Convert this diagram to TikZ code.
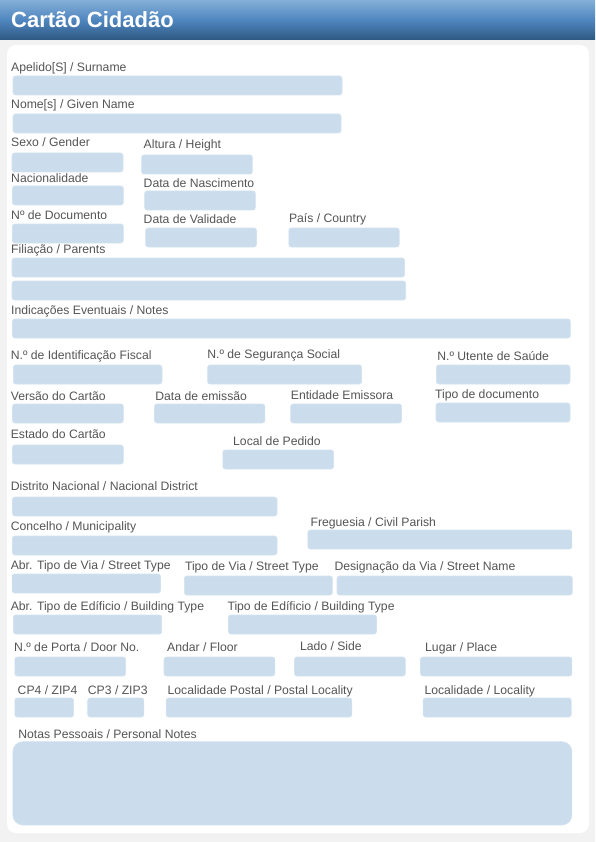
\documentclass[tikz,border=0pt]{standalone}
\usepackage{fontspec}
\setmainfont{Liberation Sans}
\definecolor{pagebg}{HTML}{F2F2F2}
\definecolor{fieldbg}{HTML}{CBDCEC}
\definecolor{fieldedge}{HTML}{D3E2EF}
\definecolor{lbltext}{HTML}{555555}
\definecolor{hdtop}{HTML}{84AFD8}
\definecolor{hdmid}{HTML}{4F86BF}
\definecolor{hdbot}{HTML}{2E5882}
\tikzset{
  lbl/.style={anchor=base west, inner sep=0pt, text=lbltext, font=\fontsize{12.2}{14}\selectfont},
  fbox/.style={fill=fieldbg, draw=fieldedge, line width=0.6pt, rounded corners=2.5pt},
  title/.style={anchor=base west, inner sep=0pt, text=white, font=\fontsize{22}{24}\selectfont\bfseries},
}
% \fld{id}{label x}{label baseline}{label}{x1}{y1}{x2}{y2}
\newcommand\fld[8]{%
  \node[lbl] (#1l) at (#2,#3) {#4};
  \path[fbox] (#5,#6) rectangle (#7,#8);
}
\begin{document}
\begin{tikzpicture}[x=1pt,y=-1pt]
\useasboundingbox (0,0) rectangle (595,842);
\fill[pagebg] (0,0) rectangle (595,842);
% header
\shade[top color=hdtop, bottom color=hdmid] (0,0) rectangle (595,20);
\shade[top color=hdmid, bottom color=hdbot] (0,20) rectangle (595,40);
\node[title] (ttl) at (11,27.5) {Cartão Cidadão};
% panel
\fill[white, rounded corners=9pt] (7,45) rectangle (589,833);
% fields
\fld{sur}{11}{71.5}{Apelido[S] / Surname}{13}{76}{342}{95}
\fld{giv}{11}{109}{Nome[s] / Given Name}{13}{114}{341}{133}
\fld{sex}{11}{147}{Sexo / Gender}{12}{153}{123}{172}
\fld{alt}{143.5}{149}{Altura / Height}{141.6}{155}{252.4}{174}
\fld{nac}{11}{183}{Nacionalidade}{12.5}{186}{123.3}{205}
\fld{dnas}{143.5}{187.3}{Data de Nascimento}{144.6}{191}{255.4}{210}
\fld{ndoc}{11}{219.7}{Nº de Documento}{12.5}{224}{123.3}{243}
\fld{dval}{143.5}{223.3}{Data de Validade}{145.7}{228}{256.5}{247}
\fld{pais}{288.8}{222.3}{País / Country}{288.8}{228}{399.2}{247}
\fld{fil}{11}{253}{Filiação / Parents}{12}{258}{404.6}{277}
\path[fbox] (12,281) rectangle (405.7,300);
\fld{ind}{11}{314.7}{Indicações Eventuais / Notes}{12.5}{319}{570.4}{338}
\fld{nif}{10.6}{359.7}{N.º de Identificação Fiscal}{13.3}{365}{162}{384}
\fld{nss}{207.2}{358.3}{N.º de Segurança Social}{207.6}{365}{361.7}{384}
\fld{nus}{437.2}{360.7}{N.º Utente de Saúde}{436.4}{365}{570}{384}
\fld{ver}{10.6}{400.7}{Versão do Cartão}{12.5}{404}{123.3}{423}
\fld{dem}{155.2}{400.7}{Data de emissão}{154.5}{404}{264.9}{423}
\fld{ent}{290.7}{399.7}{Entidade Emissora}{290.7}{404}{401.5}{423}
\fld{tdoc}{434.9}{398.3}{Tipo de documento}{436}{403}{570}{422}
\fld{est}{10.6}{438.3}{Estado do Cartão}{12.5}{445}{123.3}{464}
\fld{lped}{233}{445}{Local de Pedido}{222.8}{450}{333.6}{469}
\fld{dist}{10.6}{490}{Distrito Nacional / Nacional District}{12.5}{497}{277}{516}
\fld{conc}{10.6}{530.7}{Concelho / Municipality}{12.5}{536}{277}{555}
\fld{freg}{310.4}{526.7}{Freguesia / Civil Parish}{307.8}{530}{571.9}{549}
\fld{atv}{10.6}{569}{Abr. Tipo de Via / Street Type}{12.1}{574}{160.5}{593}
\fld{tv}{184.8}{570}{Tipo de Via / Street Type}{184.4}{576}{332.4}{595}
\fld{dv}{334.3}{570.7}{Designação da Via / Street Name}{337}{576}{572.3}{595}
\fld{ate}{10.6}{610}{Abr. Tipo de Edíficio / Building Type}{13.3}{615}{161.7}{634}
\fld{te}{227.3}{610.7}{Tipo de Edíficio / Building Type}{228.5}{615}{376.5}{634}
\fld{porta}{14}{651.7}{N.º de Porta / Door No.}{14.8}{657}{125.6}{676}
\fld{andar}{167}{651.7}{Andar / Floor}{164}{657}{274.8}{676}
\fld{lado}{299.8}{650.7}{Lado / Side}{294.5}{657}{405.3}{676}
\fld{lugar}{425}{651.7}{Lugar / Place}{420.5}{657}{571.9}{676}
\fld{cp4}{17.5}{694.7}{CP4 / ZIP4}{14.8}{698}{73.6}{717}
\fld{cp3}{87.7}{694.7}{CP3 / ZIP3}{87.7}{698}{143.8}{717}
\fld{lpost}{167.4}{694.7}{Localidade Postal / Postal Locality}{166.2}{698}{351.8}{717}
\fld{loc}{424.3}{694.7}{Localidade / Locality}{423.1}{698}{571.2}{717}
\node[lbl] (notl) at (18.2,738.3) {Notas Pessoais / Personal Notes};
\path[fbox, rounded corners=10pt] (12.9,741.7) rectangle (571.9,825);
\end{tikzpicture}
\end{document}
